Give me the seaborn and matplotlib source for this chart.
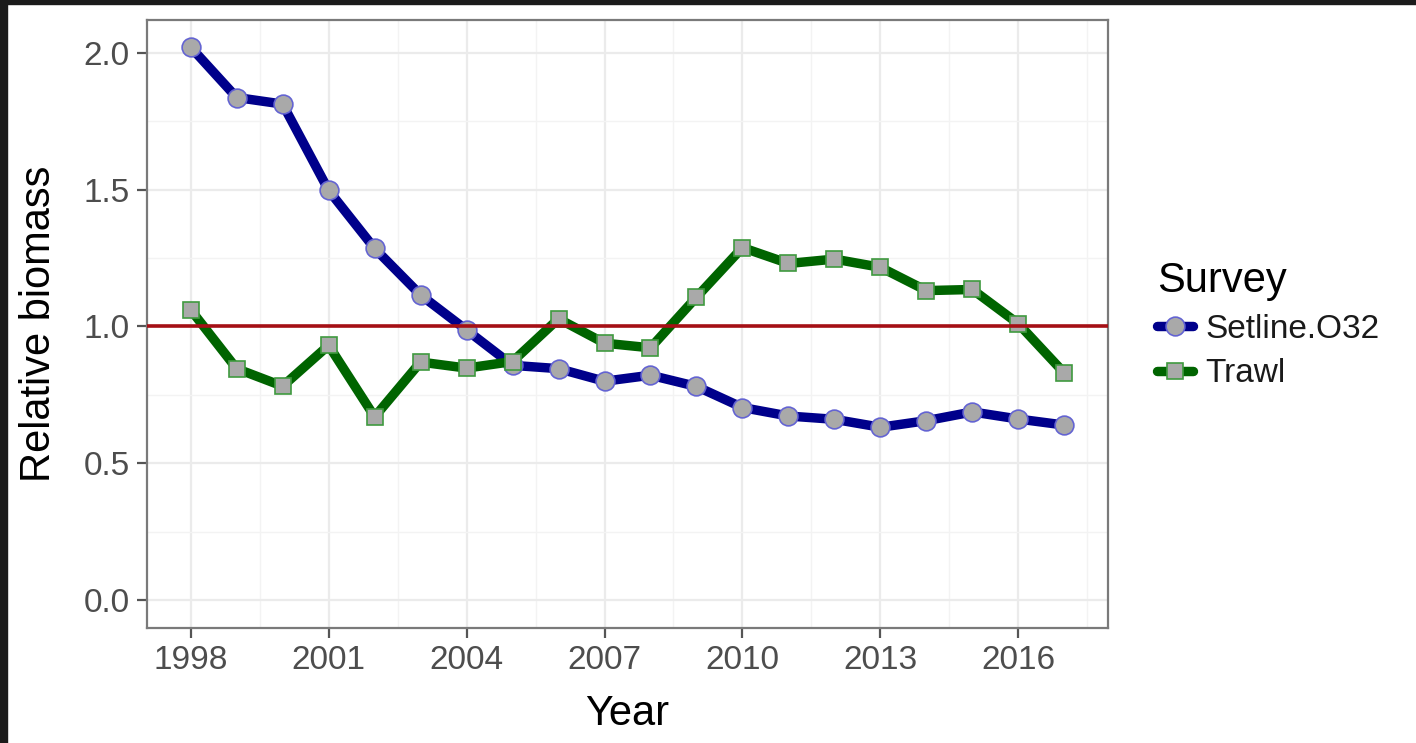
import numpy as np
import pandas as pd
import matplotlib
matplotlib.use('Agg')
import matplotlib.pyplot as plt
import matplotlib.ticker as mticker
from matplotlib.patches import Rectangle
import seaborn as sns

# values
years = list(range(1998, 2018))
setline = [2.02, 1.836, 1.812, 1.497, 1.285, 1.115, 0.987, 0.858, 0.846, 0.800,
           0.822, 0.781, 0.704, 0.673, 0.661, 0.632, 0.656, 0.688, 0.662, 0.640]
trawl = [1.061, 0.846, 0.782, 0.931, 0.670, 0.870, 0.848, 0.872, 1.028, 0.939,
         0.922, 1.107, 1.288, 1.230, 1.246, 1.216, 1.131, 1.135, 1.010, 0.830]
x_ticks = [1998, 2001, 2004, 2007, 2010, 2013, 2016]
y_ticks = [0.0, 0.5, 1.0, 1.5, 2.0]

df = pd.DataFrame({'Year': years * 2,
                   'Biomass': setline + trawl,
                   'Survey': ['Setline.O32'] * len(years) + ['Trawl'] * len(years)})

sns.set_theme(style='white')
plt.rcParams['font.family'] = ['Liberation Sans', 'DejaVu Sans']
plt.rcParams['text.color'] = 'black'

fig = plt.figure(figsize=(14.16, 7.43), dpi=100)
ax = fig.add_axes([147/1416, 1 - 628/743, (1108-147)/1416, (628-20)/743])

ax.set_xlim(1997.05, 2017.95)
ax.set_ylim(-0.101, 2.119)
ax.set_xticks(x_ticks)
ax.set_yticks(y_ticks)
ax.xaxis.set_minor_locator(mticker.FixedLocator([1999.5, 2002.5, 2005.5, 2008.5, 2011.5, 2014.5, 2017.5]))
ax.yaxis.set_minor_locator(mticker.FixedLocator([0.25, 0.75, 1.25, 1.75]))
ax.yaxis.set_major_formatter(mticker.FormatStrFormatter('%.1f'))
ax.grid(which='major', color='#ebebeb', lw=1.6)
ax.grid(which='minor', color='#f3f3f3', lw=1.0)
ax.set_axisbelow(True)

styles = {
    'Setline.O32': dict(color='#00008b', marker='o', markersize=13.5,
                        markerfacecolor='#a9a9a9', markeredgecolor='#6464d2'),
    'Trawl': dict(color='#006400', marker='s', markersize=12,
                  markerfacecolor='#a9a9a9', markeredgecolor='#3f9a3f'),
}
for name, kw in styles.items():
    sns.lineplot(data=df[df.Survey == name], x='Year', y='Biomass', ax=ax,
                 linewidth=6.8, markeredgewidth=1.2, label=name, **kw)

ax.axhline(1.0, color='#a50f15', lw=2.6, zorder=3)

for s in ax.spines.values():
    s.set_visible(True)
    s.set_color('#7a7a7a')
    s.set_linewidth(1.6)

ax.tick_params(axis='both', which='major', length=7.5, width=1.6, color='#555555',
               labelsize=24, labelcolor='#4d4d4d', pad=5, bottom=True, left=True)
ax.tick_params(which='minor', length=0)

ax.set_xlabel('Year', fontsize=30, color='black')
ax.set_ylabel('Relative biomass', fontsize=30, color='black')
ax.xaxis.set_label_coords(0.5, -0.108)
ax.yaxis.set_label_coords(-0.092, 0.5)

handles, labels = ax.get_legend_handles_labels()
leg = ax.legend(handles, labels, title='Survey', loc='center left',
                bbox_to_anchor=(1140/1416, 1 - 325/743), bbox_transform=fig.transFigure,
                frameon=False, fontsize=24, title_fontsize=30, alignment='left',
                handlelength=1.1, handletextpad=0.35, labelspacing=0.4, borderpad=0)
for t in leg.get_texts():
    t.set_color('#1a1a1a')

# dark frame strips of the screenshot
fig.add_artist(Rectangle((0, 1 - 4/743), 1, 4/743, transform=fig.transFigure,
                         color='#1b1b1b', zorder=10))
fig.add_artist(Rectangle((0, 0), 7/1416, 1, transform=fig.transFigure,
                         color='#1b1b1b', zorder=10))

fig.savefig('out.png', dpi=100, facecolor='white')
